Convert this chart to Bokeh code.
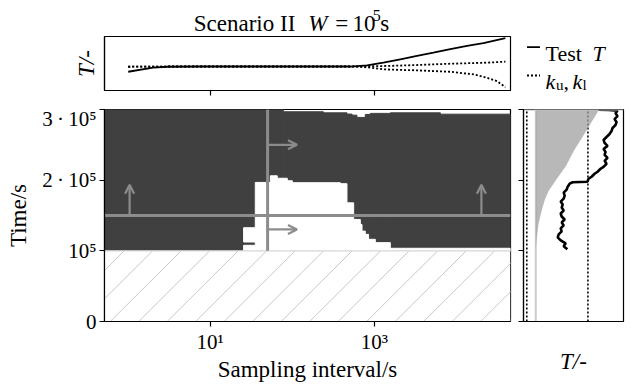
import numpy as np
from bokeh.plotting import figure
from bokeh.models import Range1d, FixedTicker, Arrow, OpenHead
from bokeh.layouts import column, row
from bokeh.embed import file_html
from bokeh.resources import INLINE
from bokeh.core.properties import value

FONT = "Liberation Serif"

# ---------------- data ----------------
interval_range = [0.514, 45700]   # sampling interval axis extent (s)
time_range = [0, 3e5]
window_W = 1e5

# top panel: test statistic T and bounds k_u, k_l vs sampling interval
s_test = [1, 2, 3, 7.5, 30, 180, 509, 815, 1288, 2075, 3311, 5250, 8450, 13500, 21400, 39600]
T_test = [0.347, 0.422, 0.44, 0.444, 0.444, 0.444, 0.444, 0.466, 0.515, 0.578, 0.64, 0.70, 0.765, 0.826, 0.877, 0.97]
s_bounds = [1, 3, 30, 180, 509, 815, 1288, 2075, 3311, 5250, 8450, 16250, 23650, 31300, 39600]
k_upper = [0.44, 0.444, 0.444, 0.444, 0.444, 0.448, 0.453, 0.462, 0.472, 0.484, 0.496, 0.508, 0.516, 0.525, 0.534]
k_lower = [0.44, 0.444, 0.444, 0.444, 0.444, 0.43, 0.392, 0.382, 0.373, 0.36, 0.347, 0.2985, 0.235, 0.1735, 0.0616]

# main panel: detection map (dark = detected)
dark_edges = [0.514, 77.6, 239, 464, 535, 614, 776, 894, 1567, 6380, 45700]
dark_top = [3e5, 2.968e5, 2.953e5, 2.935e5, 2.92e5, 2.888e5, 2.93e5, 2.945e5, 2.953e5, 2.934e5]
white_left = [25.5, 25.5, 35.4, 54, 65.6, 86.9, 100, 385, 464, 560, 675, 708, 776, 851, 1028, 1567]
white_right = [35.4, 35.4, 54, 65.6, 86.9, 100, 385, 464, 560, 675, 708, 776, 851, 1028, 1567, 45700]
white_bottom = [1.0e5, 1.125e5, 1e5, 1e5, 1e5, 1e5, 1e5, 1e5, 1e5, 1e5, 1e5, 1e5, 1e5, 1e5, 1e5, 1e5]
white_top = [1.078e5, 1.327e5, 1.968e5, 2.062e5, 2.027e5, 1.992e5, 1.964e5, 1.95e5, 1.679e5,
             1.444e5, 1.374e5, 1.279e5, 1.233e5, 1.163e5, 1.116e5, 1.036e5]
split_interval = 50
split_time = 1.5e5
arrow_up_x = [1.04, 20200]
arrow_up_to = 1.936e5
arrow_right_y = [2.5e5, 1.303e5]
arrow_right_to = 114

# right panel: T over time
T_range = [0, 100.3]
k_l_right = 3.3
k_u_right = 64.6
T_floor = 12.3
band_time = [0.998e5, 1.139e5, 1.261e5, 1.374e5, 1.5e5, 1.608e5, 1.725e5, 1.842e5, 2.006e5,
             2.193e5, 2.428e5, 2.663e5, 2.85e5, 3.0e5]
band_T = [12.3, 13.0, 14.0, 15.0, 17.0, 19.0, 21.5, 25.0, 32.8, 42.3, 51.0, 61.5, 69.5, 76.0]
test_time = [1.022e5, 1.064e5, 1.107e5, 1.149e5, 1.191e5, 1.233e5, 1.275e5, 1.317e5, 1.360e5, 1.402e5,
             1.444e5, 1.486e5, 1.528e5, 1.570e5, 1.613e5, 1.655e5, 1.697e5, 1.739e5, 1.781e5, 1.823e5,
             1.866e5, 1.908e5, 1.950e5, 1.971e5, 1.978e5, 2.020e5, 2.049e5, 2.091e5, 2.119e5, 2.161e5,
             2.189e5, 2.232e5, 2.274e5, 2.316e5, 2.358e5, 2.400e5, 2.442e5, 2.485e5, 2.527e5, 2.569e5,
             2.611e5, 2.653e5, 2.695e5, 2.738e5, 2.780e5, 2.822e5, 2.864e5, 2.906e5, 2.948e5, 2.983e5,
             2.993e5, 2.998e5]
test_T = [44.0, 40.3, 42.3, 37.3, 34.3, 35.3, 38.3, 37.3, 40.3, 38.3,
          41.3, 38.3, 37.3, 40.3, 38.3, 39.3, 37.3, 40.3, 41.3, 40.3,
          43.3, 44.3, 46.3, 49.3, 64.0, 65.3, 68.3, 71.3, 74.3, 77.3,
          80.3, 83.3, 81.3, 84.3, 81.3, 82.3, 80.3, 84.3, 81.3, 80.3,
          83.3, 86.3, 88.3, 89.3, 92.3, 93.3, 91.3, 94.3, 92.3, 94.3,
          85.3, 75.3]

DARK = "#404040"
GREY = "#8c8c8c"


def style_axis(ax, label_size="21px"):
    ax.axis_line_color = "black"
    ax.axis_line_width = 1.2
    ax.major_tick_out = 5
    ax.major_tick_in = 0
    ax.minor_tick_out = 0
    ax.minor_tick_in = 0
    ax.major_tick_line_color = "black"
    ax.major_tick_line_width = 1.2
    ax.major_label_text_font = FONT
    ax.major_label_text_font_size = label_size
    ax.major_label_text_color = "black"
    ax.axis_label_text_font = FONT
    ax.axis_label_text_font_size = "23px"
    ax.axis_label_text_font_style = "normal"
    ax.axis_label_text_color = "black"


def hide_labels(ax, ticks):
    ax.ticker = FixedTicker(ticks=ticks, minor_ticks=[])
    ax.major_label_overrides = {t: " " for t in ticks}
    ax.major_label_text_font_size = "2px"
    ax.major_label_standoff = 0


def hide_ticks(ax):
    ax.major_tick_line_color = None
    ax.major_tick_out = 0


def base(fig):
    fig.xgrid.visible = False
    fig.ygrid.visible = False
    fig.outline_line_color = "black"
    fig.outline_line_width = 1.2
    fig.background_fill_color = "white"
    fig.border_fill_color = "white"


def blank(fig):
    fig.axis.visible = False
    fig.xgrid.visible = False
    fig.ygrid.visible = False
    fig.outline_line_color = None


x_rng = Range1d(interval_range[0], interval_range[1])
t_rng = Range1d(time_range[0], time_range[1])

# ---------------- title strip (page coordinates) ----------------
TH = 35
ttl = figure(width=514, height=TH, x_range=Range1d(0, 514), y_range=Range1d(0, TH),
             output_backend="svg", toolbar_location=None,
             min_border_left=0, min_border_right=0, min_border_top=0, min_border_bottom=0)
blank(ttl)


def ttext(x, y, t, size="23px", style="normal"):
    ttl.text(x=[x], y=[TH - y], text=[t], text_font=value(FONT), text_font_size=size,
             text_font_style=style, text_baseline="alphabetic", text_color="black")


ttext(113, 22.5, "Scenario II")
ttext(258, 22.5, "W", style="italic")
ttext(292, 22.5, "=")
ttext(314, 22.5, "10")
ttext(339.5, 14.5, "5", size="16px")
ttext(349, 22.5, "s")

# ---------------- top panel ----------------
top = figure(width=514, height=71, x_axis_type="log", x_range=x_rng, y_range=Range1d(0, 1),
             output_backend="svg", toolbar_location=None,
             min_border_left=104, min_border_right=4, min_border_top=1, min_border_bottom=16)
base(top)
top.line(s_test, T_test, line_color="black", line_width=1.8)
top.line(s_bounds, k_upper, line_color="black", line_width=1.8, line_dash="2 2")
top.line(s_bounds, k_lower, line_color="black", line_width=1.8, line_dash="2 2")
style_axis(top.xaxis[0])
hide_labels(top.xaxis[0], [10, 1000])
style_axis(top.yaxis[0])
hide_labels(top.yaxis[0], [0.5])
hide_ticks(top.yaxis[0])
top.yaxis[0].axis_label = "T/-"
top.yaxis[0].axis_label_text_font_style = "italic"
top.yaxis[0].axis_label_standoff = 2

# ---------------- legend area (page coordinates, origin at x=514) ----------------
leg = figure(width=112, height=106, x_range=Range1d(0, 112), y_range=Range1d(0, 106),
             output_backend="svg", toolbar_location=None,
             min_border_left=0, min_border_right=0, min_border_top=0, min_border_bottom=0)
blank(leg)
leg.line([12.5, 25.5], [106 - 46.7, 106 - 46.7], line_color="black", line_width=1.8)
leg.line([12.5, 25.5], [106 - 75, 106 - 75], line_color="black", line_width=1.8, line_dash="2 2")


def ltext(x, y, t, size="22px", style="normal"):
    leg.text(x=[x], y=[106 - y], text=[t], text_font=value(FONT), text_font_size=size,
             text_font_style=style, text_baseline="alphabetic", text_color="black")


ltext(31, 52.5, "Test")
ltext(78, 52.5, "T", style="italic")
ltext(31, 81, "k", style="italic")
ltext(41.5, 84.5, "u", size="15px")
ltext(49, 81, ",")
ltext(58, 81, "k", style="italic")
ltext(68, 84.5, "l", size="15px")

# ---------------- main panel ----------------
MH = 278
main = figure(width=514, height=MH, x_axis_type="log", x_range=x_rng, y_range=t_rng,
              output_backend="svg", toolbar_location=None,
              min_border_left=104, min_border_right=4, min_border_top=3, min_border_bottom=62)
base(main)
main.quad(left=dark_edges[:-1], right=dark_edges[1:], bottom=[window_W] * len(dark_top), top=dark_top,
          fill_color=DARK, line_color=DARK, line_width=1)
main.quad(left=white_left, right=white_right, bottom=white_bottom, top=white_top,
          fill_color="white", line_color="white", line_width=1)
main.quad(left=[interval_range[0]], right=[interval_range[1]], bottom=[time_range[0]], top=[window_W],
          fill_color="white", line_color=None)
# 45-degree hatching of the region below the window length W (decorative)
px_per_decade = 406 / np.log10(interval_range[1] / interval_range[0])
px_per_time = 213 / (time_range[1] - time_range[0])
rise_dec = window_W * px_per_time / px_per_decade
step_dec = 28.5 / px_per_decade
h_logs = np.arange(-0.22 - 4 * step_dec, np.log10(interval_range[1]), step_dec)
main.segment(x0=10 ** h_logs, y0=[time_range[0]] * len(h_logs), x1=10 ** (h_logs + rise_dec),
             y1=[window_W] * len(h_logs), line_color="#c8c8c8", line_width=1)
main.line(interval_range, [window_W, window_W], line_color="#d8d8d8", line_width=1.2)
main.line(interval_range, [split_time, split_time], line_color=GREY, line_width=3)
main.line([split_interval, split_interval], [window_W, time_range[1]], line_color=GREY, line_width=3)
for xu in arrow_up_x:
    main.add_layout(Arrow(end=OpenHead(size=9, line_color=GREY, line_width=2.2),
                          x_start=xu, y_start=split_time, x_end=xu, y_end=arrow_up_to,
                          line_color=GREY, line_width=2.2))
for yr in arrow_right_y:
    main.add_layout(Arrow(end=OpenHead(size=9, line_color=GREY, line_width=2.2),
                          x_start=split_interval, y_start=yr, x_end=arrow_right_to, y_end=yr,
                          line_color=GREY, line_width=2.2))
style_axis(main.xaxis[0])
main.xaxis[0].ticker = FixedTicker(ticks=[10, 1000], minor_ticks=[])
main.xaxis[0].major_label_overrides = {10: "10¹", 1000: "10³"}
main.xaxis[0].axis_label = "Sampling interval/s"
main.xaxis[0].major_label_standoff = 3
main.xaxis[0].axis_label_standoff = 0
style_axis(main.yaxis[0])
main.yaxis[0].ticker = FixedTicker(ticks=[0, 1e5, 2e5, 3e5], minor_ticks=[])
main.yaxis[0].major_label_overrides = {0: "0", 100000: "10⁵", 200000: "2\u2009·\u200910⁵",
                                       300000: "3\u2009·\u200910⁵"}
main.yaxis[0].axis_label = "Time/s"
main.yaxis[0].major_label_standoff = 3
main.yaxis[0].axis_label_standoff = 8

# ---------------- right panel ----------------
rp = figure(width=112, height=MH, x_range=Range1d(T_range[0], T_range[1]), y_range=t_rng,
            output_backend="svg", toolbar_location=None,
            min_border_left=9, min_border_right=3, min_border_top=3, min_border_bottom=62)
base(rp)
rp.line([T_floor, T_floor], time_range, line_color="#cccccc", line_width=2)
rp.line([k_l_right, k_l_right], time_range, line_color="black", line_width=1.6, line_dash="2 2")
rp.line([k_u_right, k_u_right], time_range, line_color="black", line_width=1.6, line_dash="2 2")
rp.harea(x1=[T_floor] * len(band_T), x2=band_T, y=band_time, fill_color="#a0a0a0", fill_alpha=0.75)
rp.line(test_T, test_time, line_color="black", line_width=2.6)
rp.line(T_range, [time_range[1], time_range[1]], line_color="#c0c0c0", line_width=2)
style_axis(rp.yaxis[0])
hide_labels(rp.yaxis[0], [0, 1e5, 2e5, 3e5])
style_axis(rp.xaxis[0])
hide_labels(rp.xaxis[0], [50])
hide_ticks(rp.xaxis[0])
rp.xaxis[0].axis_label = "T/-"
rp.xaxis[0].axis_label_text_font_style = "italic"
rp.xaxis[0].axis_label_standoff = 22

layout = column(row(column(ttl, top, spacing=0), leg, spacing=0), row(main, rp, spacing=0), spacing=0)
open("out.html", "w").write(file_html(layout, INLINE))
